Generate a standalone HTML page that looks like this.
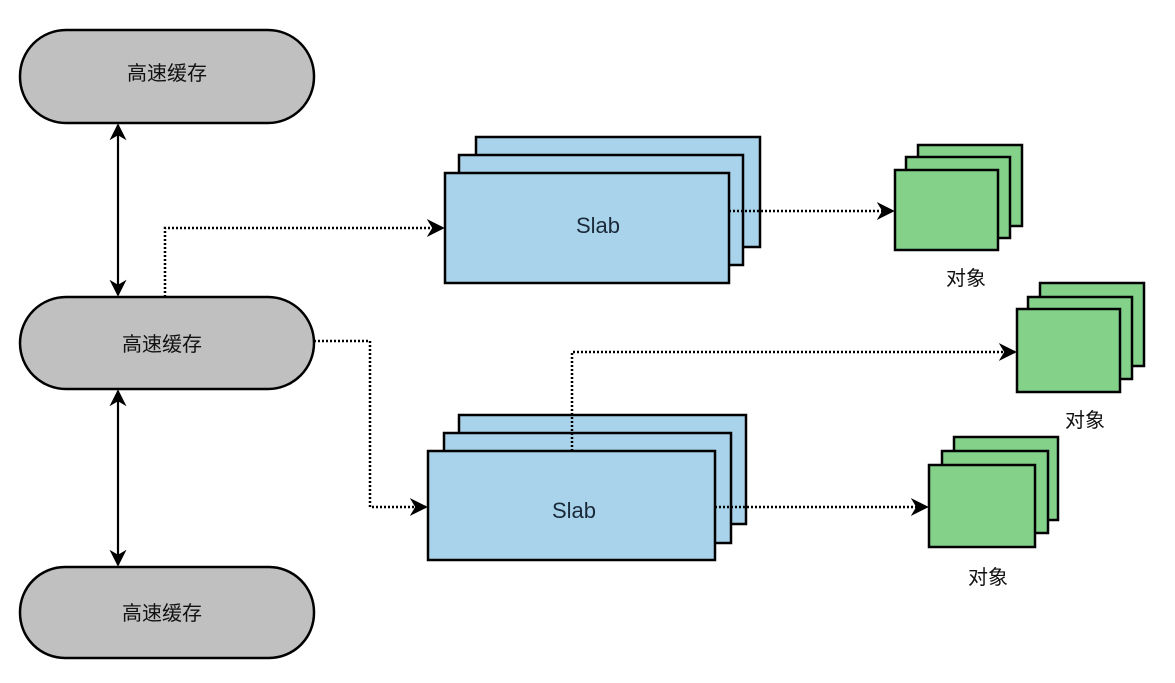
<!DOCTYPE html>
<html><head><meta charset="utf-8"><style>
html,body{margin:0;padding:0;background:#fff;}
text{font-family:"Liberation Sans","Noto Sans CJK SC",sans-serif;}
</style></head><body>
<svg width="1175" height="678" viewBox="0 0 1175 678" xmlns="http://www.w3.org/2000/svg">
<defs>
<marker id="b" viewBox="0 0 10 10" refX="9" refY="5" markerWidth="18" markerHeight="18" orient="auto" markerUnits="userSpaceOnUse"><path d="M0,0 L10,5 L0,10 L3,5 z" fill="#000"/></marker>
<marker id="c" viewBox="0 0 10 10" refX="9" refY="5" markerWidth="17" markerHeight="17" orient="auto-start-reverse" markerUnits="userSpaceOnUse"><path d="M0,0 L10,5 L0,10 L3,5 z" fill="#000"/></marker>
</defs>
<g fill="#c0c0c0" stroke="#000" stroke-width="2.5">
<rect x="20" y="30" width="294" height="93" rx="46"/>
<rect x="20" y="297" width="294" height="92" rx="46"/>
<rect x="20" y="567" width="294" height="91" rx="45"/>
</g>
<g font-size="20" text-anchor="middle" fill="#111">
<text x="167" y="80">高速缓存</text>
<text x="162" y="351">高速缓存</text>
<text x="162" y="620">高速缓存</text>
</g>
<g stroke="#000" stroke-width="2.2">
<line x1="118" y1="125" x2="118" y2="295" marker-start="url(#c)" marker-end="url(#c)"/>
<line x1="118" y1="391" x2="118" y2="565" marker-start="url(#c)" marker-end="url(#c)"/>
</g>
<g fill="#a9d3ea" stroke="#000" stroke-width="2.5">
<rect x="476" y="137" width="284" height="110"/>
<rect x="459" y="155" width="284" height="110"/>
<rect x="445" y="173" width="284" height="110"/>
<rect x="459" y="415" width="287" height="109"/>
<rect x="444" y="433" width="287" height="110"/>
<rect x="428" y="451" width="287" height="109"/>
</g>
<g font-size="22" text-anchor="middle" fill="#1a2a3a">
<text x="598" y="233">Slab</text>
<text x="574" y="518">Slab</text>
</g>
<g fill="#84d28a" stroke="#000" stroke-width="2.5">
<rect x="918" y="145" width="104" height="81"/>
<rect x="906" y="157" width="104" height="81"/>
<rect x="895" y="170" width="103" height="80"/>
<rect x="1040" y="283" width="104" height="83"/>
<rect x="1028" y="297" width="104" height="82"/>
<rect x="1017" y="309" width="103" height="83"/>
<rect x="954" y="437" width="104" height="83"/>
<rect x="942" y="451" width="106" height="82"/>
<rect x="929" y="465" width="106" height="82"/>
</g>
<g font-size="20" text-anchor="middle" fill="#111">
<text x="966" y="285">对象</text>
<text x="1085" y="427">对象</text>
<text x="988" y="584">对象</text>
</g>
<g fill="none" stroke="#000" stroke-width="2.5" stroke-dasharray="2,2">
<polyline points="165,297 165,228 443,228" marker-end="url(#b)"/>
<polyline points="314,341 370,341 370,507 426,507" marker-end="url(#b)"/>
<polyline points="572,451 572,352 1015,352" marker-end="url(#b)"/>
<polyline points="729,211 893,211" marker-end="url(#b)"/>
<polyline points="715,507 927,507" marker-end="url(#b)"/>
</g>
</svg>
</body></html>
